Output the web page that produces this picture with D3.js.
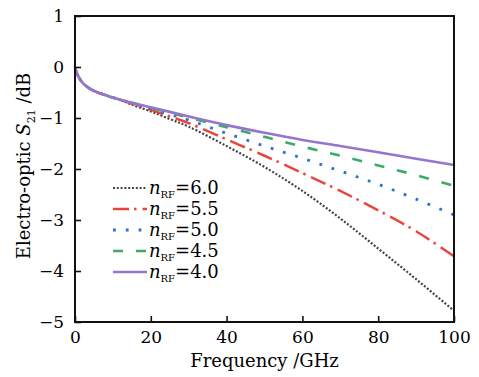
<!DOCTYPE html>
<html><head><meta charset="utf-8">
<script src="https://cdn.jsdelivr.net/npm/d3@7"></script>
<style>body{margin:0;background:#fff}svg{display:block}svg text{font-family:'DejaVu Serif';fill:#000}</style>
</head><body><svg id="c" width="479" height="377"></svg>
<script>
const freq = [0, 0.3, 0.6, 1, 2, 4, 6, 8, 10, 12.5, 15, 20, 25, 30, 40, 50, 60, 70, 80, 90, 100];
const s60 = [0,-0.08,-0.14,-0.2,-0.31,-0.43,-0.50,-0.55,-0.60,-0.66,-0.74,-0.87,-1.02,-1.17,-1.55,-1.96,-2.43,-2.97,-3.56,-4.16,-4.78];
const s55 = [0,-0.08,-0.14,-0.2,-0.31,-0.43,-0.50,-0.55,-0.60,-0.66,-0.72,-0.84,-0.97,-1.10,-1.42,-1.74,-2.08,-2.43,-2.81,-3.22,-3.71];
const s50 = [0,-0.08,-0.14,-0.2,-0.31,-0.43,-0.50,-0.55,-0.60,-0.65,-0.71,-0.82,-0.93,-1.04,-1.30,-1.55,-1.79,-2.04,-2.30,-2.59,-2.90];
const s45 = [0,-0.08,-0.14,-0.2,-0.31,-0.43,-0.50,-0.55,-0.60,-0.65,-0.70,-0.80,-0.90,-0.99,-1.18,-1.37,-1.56,-1.74,-1.93,-2.12,-2.33];
const s40 = [0,-0.08,-0.14,-0.2,-0.31,-0.43,-0.50,-0.55,-0.60,-0.65,-0.70,-0.79,-0.88,-0.97,-1.14,-1.29,-1.43,-1.55,-1.67,-1.80,-1.92];
const labels = ["6.0","5.5","5.0","4.5","4.0"];
const colors = ["#444444","#e8463c","#2f6fd3","#3aac66","#9575cd"];
const dashes = ["2,1.8","16,5,2.5,6","2.8,10","10,13",null];
const widths = [2.2,2.5,2.8,2.6,2.6];
const series = [s60,s55,s50,s45,s40];
const xTicks = [0,20,40,60,80,100];
const yTicks = [1,0,-1,-2,-3,-4,-5];

const svg = d3.select("#c");
const L=75,R=454,T=16,B=322;
const x = d3.scaleLinear().domain([0,100]).range([L,R]);
const y = d3.scaleLinear().domain([-5,1]).range([B,T]);

const line = d3.line().x(d=>x(d[0])).y(d=>y(d[1])).curve(d3.curveCatmullRom.alpha(0.5));
series.forEach((s,i)=>{
  svg.append("path").datum(freq.map((f,j)=>[f,s[j]]))
    .attr("d",line).attr("fill","none").attr("stroke",colors[i])
    .attr("stroke-width",widths[i]).attr("stroke-dasharray",dashes[i]);
});

const gx = svg.append("g").attr("transform",`translate(0,${B})`)
  .call(d3.axisBottom(x).tickValues(xTicks).tickSizeInner(-6).tickSizeOuter(0).tickPadding(12).tickFormat(d3.format("d")));
const gy = svg.append("g").attr("transform",`translate(${L},0)`)
  .call(d3.axisLeft(y).tickValues(yTicks).tickSizeInner(-6).tickSizeOuter(0).tickPadding(11).tickFormat(d=>d<0?"\u2212"+Math.abs(d):d));
[gx,gy].forEach(g=>{
  g.attr("font-family",null);
  g.select(".domain").remove();
  g.selectAll(".tick line").attr("stroke","#111").attr("stroke-width",1.6);
  g.selectAll(".tick text").attr("font-size",17).attr("fill","#000");
});
gx.selectAll(".tick text").attr("dy","0.55em");
svg.append("rect").attr("x",L).attr("y",T).attr("width",R-L).attr("height",B-T)
  .attr("fill","none").attr("stroke","#111").attr("stroke-width",2);

svg.append("text").attr("x",(L+R)/2).attr("y",367).attr("text-anchor","middle")
  .attr("font-size",18).text("Frequency /GHz");
const yt = svg.append("text").attr("transform","translate(30,166) rotate(-90)").attr("text-anchor","middle").attr("font-size",18);
yt.append("tspan").text("Electro-optic ");
yt.append("tspan").attr("font-style","italic").text("S");
yt.append("tspan").attr("font-size",11).attr("dy",5).text("21");
yt.append("tspan").attr("dy",-5).text(" /dB");

labels.forEach((lb,i)=>{
  const yy = 188 + i*21;
  svg.append("line").attr("x1",113).attr("x2",147).attr("y1",yy).attr("y2",yy)
    .attr("stroke",colors[i]).attr("stroke-width",widths[i]).attr("stroke-dasharray",dashes[i]);
  const t = svg.append("text").attr("x",149).attr("y",yy+6).attr("font-size",18);
  t.append("tspan").attr("font-style","italic").text("n");
  t.append("tspan").attr("font-size",10).attr("dy",4).text("RF");
  t.append("tspan").attr("dy",-4).text("="+lb);
});
</script></body></html>
